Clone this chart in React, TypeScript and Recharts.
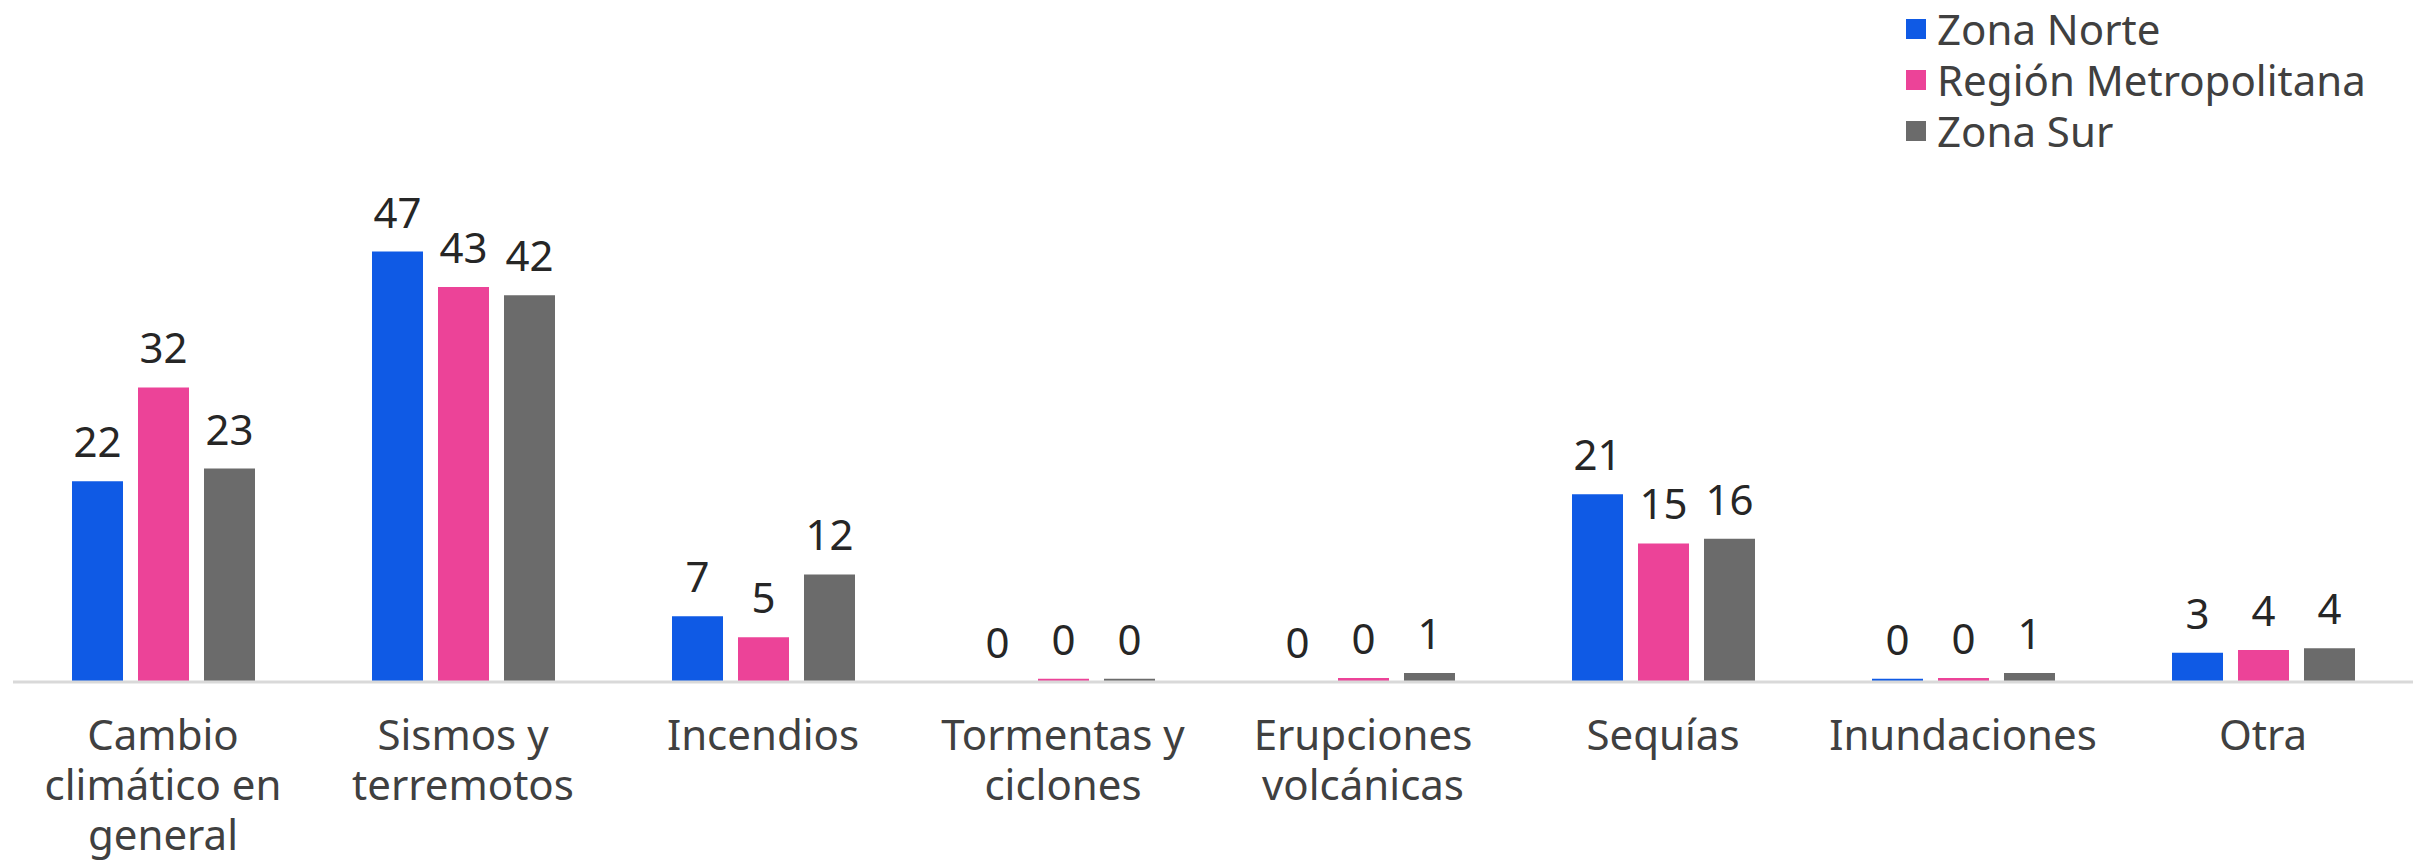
import React from 'react';
import { BarChart, Bar, XAxis, YAxis, LabelList } from 'recharts';

// categories (line breaks as in the original axis)
const categories = [
  'Cambio climático en general',
  'Sismos y terremotos',
  'Incendios',
  'Tormentas y ciclones',
  'Erupciones volcánicas',
  'Sequías',
  'Inundaciones',
  'Otra',
];
const categoryLines = [
  ['Cambio', 'climático en', 'general'],
  ['Sismos y', 'terremotos'],
  ['Incendios'],
  ['Tormentas y', 'ciclones'],
  ['Erupciones', 'volcánicas'],
  ['Sequías'],
  ['Inundaciones'],
  ['Otra'],
];

const zonaNorte = [22, 47.2, 7.2, 0.01, 0.01, 20.6, 0.35, 3.2];
const regionMetropolitana = [32.3, 43.3, 4.9, 0.35, 0.45, 15.2, 0.45, 3.5];
const zonaSur = [23.4, 42.4, 11.8, 0.35, 1.0, 15.7, 1.0, 3.7];

const seriesNames = ['Zona Norte', 'Región Metropolitana', 'Zona Sur'];
const seriesColors = ['#0f5ae5', '#ec4398', '#6b6b6b'];

const data = categories.map((c, i) => ({
  name: c,
  norte: zonaNorte[i],
  rm: regionMetropolitana[i],
  sur: zonaSur[i],
}));

const FONT = '"Noto Sans", sans-serif';

const CategoryTick = (props: any) => {
  const { x, y, payload, index } = props;
  const lines = categoryLines[index] || [payload.value];
  return (
    <text
      x={x}
      y={y + 60}
      textAnchor="middle"
      fontFamily={FONT}
      fontSize={42}
      fill="#404040"
    >
      {lines.map((l: string, i: number) => (
        <tspan key={i} x={x} dy={i === 0 ? 0 : 50}>
          {l}
        </tspan>
      ))}
    </text>
  );
};

const ValueLabel = (props: any) => {
  const { x, y, width, value } = props;
  return (
    <text
      x={x + width / 2}
      y={y - 24}
      textAnchor="middle"
      fontFamily={FONT}
      fontSize={42}
      fill="#262626"
    >
      {Math.round(value)}
    </text>
  );
};

export default function App() {
  return (
    <div style={{ position: 'absolute', left: 0, top: 0, width: 2420, height: 861, background: '#fff' }}>
      <BarChart
        width={2420}
        height={861}
        data={data}
        margin={{ top: 226, right: 7, bottom: 0, left: 13 }}
        barSize={51}
        barGap={15}
      >
        <XAxis
          dataKey="name"
          axisLine={{ stroke: '#d9d9d9', strokeWidth: 3 }}
          tickLine={false}
          tick={<CategoryTick />}
          interval={0}
          height={179}
        />
        <YAxis hide domain={[0, 50]} />
        <Bar dataKey="norte" fill={seriesColors[0]} isAnimationActive={false}>
          <LabelList dataKey="norte" content={<ValueLabel />} />
        </Bar>
        <Bar dataKey="rm" fill={seriesColors[1]} isAnimationActive={false}>
          <LabelList dataKey="rm" content={<ValueLabel />} />
        </Bar>
        <Bar dataKey="sur" fill={seriesColors[2]} isAnimationActive={false}>
          <LabelList dataKey="sur" content={<ValueLabel />} />
        </Bar>
      </BarChart>
      <div
        style={{
          position: 'absolute',
          left: 1906,
          top: 3,
          fontFamily: FONT,
          fontSize: 42,
          color: '#404040',
        }}
      >
        {seriesNames.map((n, i) => (
          <div key={n} style={{ display: 'flex', alignItems: 'center', height: 51, whiteSpace: 'nowrap' }}>
            <span
              style={{
                display: 'inline-block',
                width: 20,
                height: 20,
                background: seriesColors[i],
                marginRight: 11,
              }}
            />
            {n}
          </div>
        ))}
      </div>
    </div>
  );
}
